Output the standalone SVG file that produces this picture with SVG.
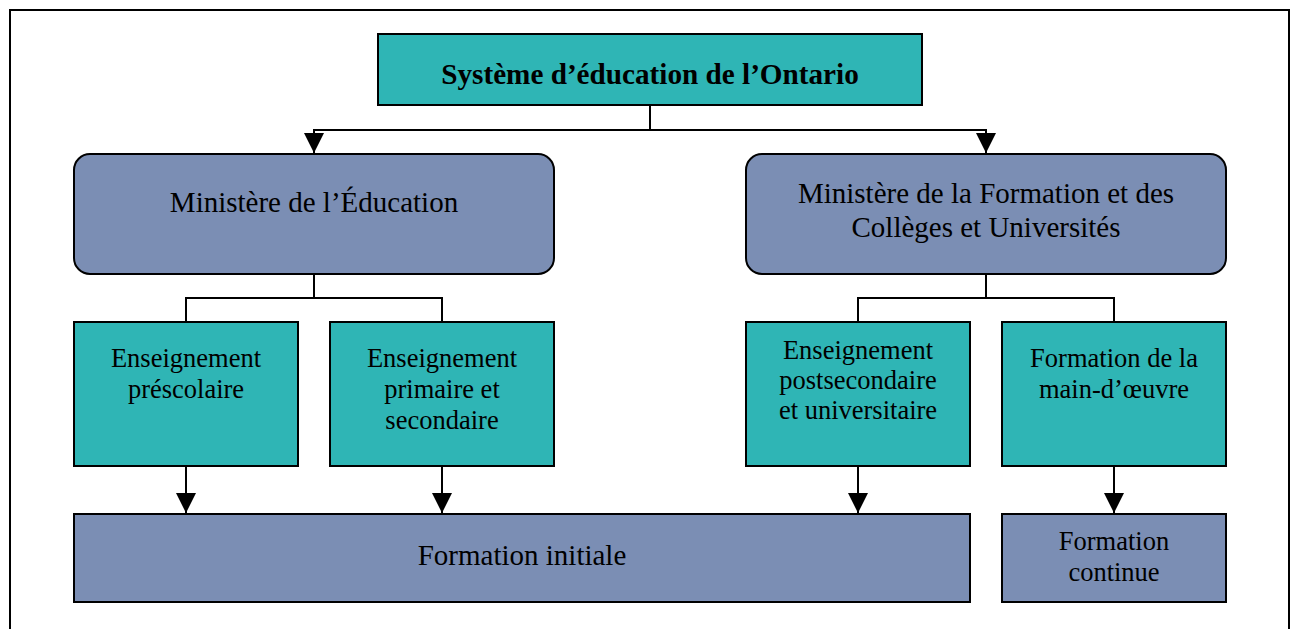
<svg xmlns="http://www.w3.org/2000/svg" width="1290" height="629" viewBox="0 0 1290 629">
<style>
.teal{fill:#2FB5B5;stroke:#000;stroke-width:2}
.blue{fill:#7B8EB4;stroke:#000;stroke-width:2}
text{font-family:"Liberation Serif","Times New Roman",serif;fill:#000;text-anchor:middle}
.big{font-size:29px}
.sm{font-size:26.5px}
.ttl{font-size:29.2px;font-weight:bold}
.conn{fill:none;stroke:#000;stroke-width:2}
</style>
<defs>
<marker id="ah" viewBox="0 0 20 20" refX="20" refY="10" markerWidth="20" markerHeight="20" markerUnits="userSpaceOnUse" orient="auto">
<path d="M0,0 L20,10 L0,20 Z" fill="#000"/>
</marker>
</defs>
<rect x="10" y="10" width="1279" height="640" fill="#fff" stroke="#000" stroke-width="2"/>
<g id="connectors">
<path class="conn" d="M650,105 V130 H314 V153" marker-end="url(#ah)"/>
<path class="conn" d="M650,130 H986 V153" marker-end="url(#ah)"/>
<path class="conn" d="M314,274 V298 H186 V322"/>
<path class="conn" d="M314,298 H442 V322"/>
<path class="conn" d="M986,274 V298 H858 V322"/>
<path class="conn" d="M986,298 H1114 V322"/>
<path class="conn" d="M186,466 V513" marker-end="url(#ah)"/>
<path class="conn" d="M442,466 V513" marker-end="url(#ah)"/>
<path class="conn" d="M858,466 V513" marker-end="url(#ah)"/>
<path class="conn" d="M1114,466 V513" marker-end="url(#ah)"/>
</g>
<g id="n-systeme">
<rect class="teal" x="378" y="34" width="544" height="71"/>
<text class="ttl" x="650" y="84">Système d’éducation de l’Ontario</text>
</g>
<g id="n-min-edu">
<rect class="blue" x="74" y="154" width="480" height="120" rx="16"/>
<text class="big" x="314" y="212">Ministère de l’Éducation</text>
</g>
<g id="n-min-form">
<rect class="blue" x="746" y="154" width="480" height="120" rx="16"/>
<text class="big" x="986" y="203">Ministère de la Formation et des</text>
<text class="big" x="986" y="237">Collèges et Universités</text>
</g>
<g id="n-prescolaire">
<rect class="teal" x="74" y="322" width="224" height="144"/>
<text class="sm" x="186" y="367">Enseignement</text>
<text class="sm" x="186" y="398">préscolaire</text>
</g>
<g id="n-primaire">
<rect class="teal" x="330" y="322" width="224" height="144"/>
<text class="sm" x="442" y="367">Enseignement</text>
<text class="sm" x="442" y="398">primaire et</text>
<text class="sm" x="442" y="429">secondaire</text>
</g>
<g id="n-postsec">
<rect class="teal" x="746" y="322" width="224" height="144"/>
<text class="sm" x="858" y="359">Enseignement</text>
<text class="sm" x="858" y="389">postsecondaire</text>
<text class="sm" x="858" y="419">et universitaire</text>
</g>
<g id="n-maindoeuvre">
<rect class="teal" x="1002" y="322" width="224" height="144"/>
<text class="sm" x="1114" y="367">Formation de la</text>
<text class="sm" x="1114" y="398">main-d’œuvre</text>
</g>
<g id="n-initiale">
<rect class="blue" x="74" y="514" width="896" height="88"/>
<text class="big" x="522" y="565">Formation initiale</text>
</g>
<g id="n-continue">
<rect class="blue" x="1002" y="514" width="224" height="88"/>
<text class="sm" x="1114" y="550">Formation</text>
<text class="sm" x="1114" y="581">continue</text>
</g>
</svg>
